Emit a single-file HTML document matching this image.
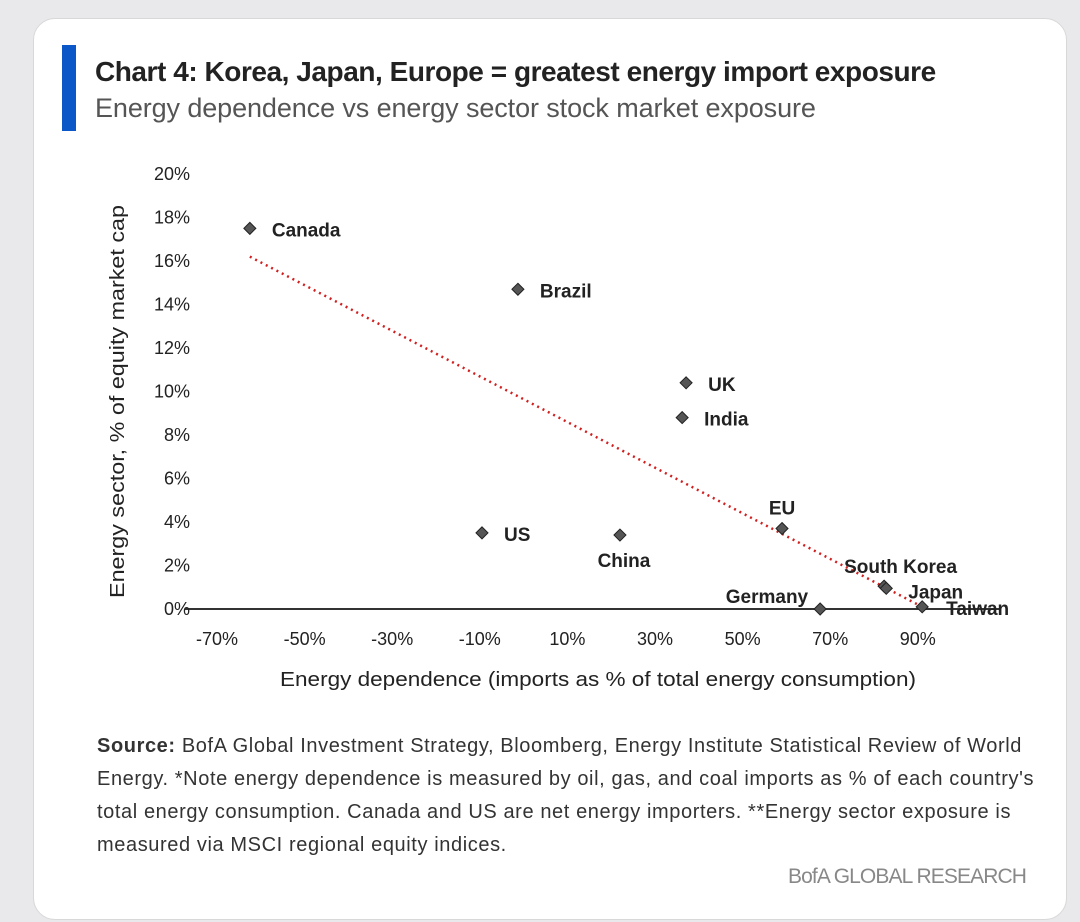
<!DOCTYPE html>
<html><head><meta charset="utf-8"><style>
body{margin:0;width:1080px;height:922px;background:#e9e9ec;font-family:"Liberation Sans",sans-serif;overflow:hidden;position:relative}
.card{position:absolute;left:33px;top:18px;width:1032px;height:900px;background:#fff;border-radius:22px;border:1px solid #d8d8d8}
.bar{position:absolute;left:62px;top:45px;width:14px;height:86px;background:#0b57c7}
.title{position:absolute;left:95px;top:56px;font-size:28px;font-weight:bold;color:#222;letter-spacing:-0.45px;white-space:nowrap}
.sub{position:absolute;left:95px;top:93px;font-size:27px;color:#555;letter-spacing:-0.1px;white-space:nowrap}
.src{position:absolute;left:97px;top:730px;font-size:20px;line-height:33px;color:#333;letter-spacing:0.6px;white-space:nowrap}
.brand{position:absolute;left:788px;top:865px;font-size:21px;color:#888;letter-spacing:-0.9px}
svg{position:absolute;left:0;top:0}
</style></head><body>
<div class="card"></div>
<div class="bar"></div>
<div class="title">Chart 4: Korea, Japan, Europe = greatest energy import exposure</div>
<div class="sub">Energy dependence vs energy sector stock market exposure</div>
<svg id="chart" width="1080" height="922"></svg>
<div class="src"><b>Source:</b> BofA Global Investment Strategy, Bloomberg, Energy Institute Statistical Review of World<br>Energy. *Note energy dependence is measured by oil, gas, and coal imports as % of each country's<br>total energy consumption. Canada and US are net energy importers. **Energy sector exposure is<br>measured via MSCI regional equity indices.</div>
<div class="brand">BofA GLOBAL RESEARCH</div>
<script>
const countries=["Canada","Brazil","UK","India","EU","US","China","South Korea","Japan","Germany","Taiwan"];
const xVals=[-62.5,-1.3,37.1,36.2,59.0,-9.5,22.0,82.3,82.8,67.7,91.0];
const yVals=[17.5,14.7,10.4,8.8,3.7,3.5,3.4,1.05,0.95,0.0,0.1];
const xTicks=[-70,-50,-30,-10,10,30,50,70,90];
const yTicks=[0,2,4,6,8,10,12,14,16,18,20];
const trend=[[-62.5,16.2],[91,0.1]];
const X=v=>217+(v+70)*4.38;
const Y=v=>609-v*21.75;
const NS="http://www.w3.org/2000/svg";
const svg=document.getElementById('chart');
function mk(t,a,txt){const e=document.createElementNS(NS,t);for(const k in a)e.setAttribute(k,a[k]);if(txt!=null)e.textContent=txt;svg.appendChild(e);return e;}
let e=mk('line',{x1:185,x2:1000,y1:Y(0),y2:Y(0),stroke:'#333','stroke-width':2});


xTicks.forEach(v=>{const t=mk('text',{x:X(v),y:645,'text-anchor':'middle','font-size':18,fill:'#222'},v+'%');

});
yTicks.forEach(v=>{const t=mk('text',{x:190,y:Y(v)+6,'text-anchor':'end','font-size':18,fill:'#222'},v+'%');

});
e=mk('text',{x:280,y:686,'font-size':20,fill:'#222',textLength:636,lengthAdjust:'spacingAndGlyphs'},'Energy dependence (imports as % of total energy consumption)');


e=mk('text',{x:0,y:0,'font-size':20,fill:'#222',textLength:393,lengthAdjust:'spacingAndGlyphs',transform:'translate(124,598) rotate(-90)'},'Energy sector, % of equity market cap');


e=mk('line',{x1:X(trend[0][0]),y1:Y(trend[0][1]),x2:X(trend[1][0]),y2:Y(trend[1][1]),stroke:'#d02020','stroke-width':2.5,'stroke-dasharray':'2 4'});


const off={"Canada":[22,8,'start'],"Brazil":[22,8,'start'],"UK":[22,8,'start'],"India":[22,8,'start'],"EU":[0,-14,'middle'],"US":[22,8,'start'],"China":[4,32,'middle'],"South Korea":[-40,-13,'start'],"Japan":[22,10,'start'],"Germany":[-12,-6,'end'],"Taiwan":[24,8,'start']};
countries.forEach((c,i)=>{const cx=X(xVals[i]),cy=Y(yVals[i]);
const p=mk('polygon',{points:`${cx},${cy-6} ${cx+6},${cy} ${cx},${cy+6} ${cx-6},${cy}`,fill:'#555',stroke:'#222','stroke-width':1});


const o=off[c];
const t=mk('text',{x:cx+o[0],y:cy+o[1],'text-anchor':o[2],'font-size':19,'font-weight':'bold',fill:'#222'},c);

});
</script>
</body></html>
